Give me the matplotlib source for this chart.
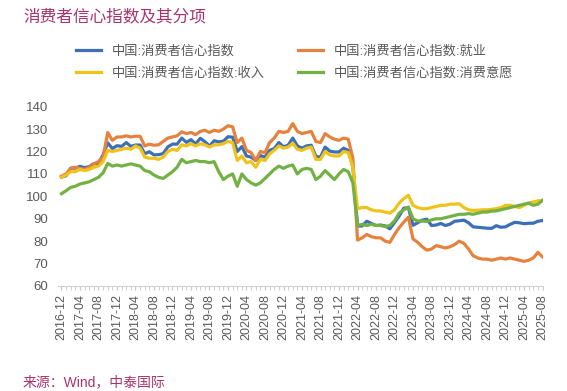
import matplotlib.pyplot as plt
from matplotlib.ticker import MultipleLocator

plt.rcParams['font.family'] = ['Liberation Sans', 'Noto Sans CJK SC', 'DejaVu Sans']

# monthly, 2016-12 .. 2025-08
months = ['2016-12'] + [f'{y}-{m:02d}' for y in range(2017, 2025) for m in range(1, 13)] \
    + [f'2025-{m:02d}' for m in range(1, 9)]

cci = ([108.6]
       + [109.2, 112.6, 112.6, 113.4, 112.8, 113.3, 114.6, 114.7, 118.6, 123.9, 121.3, 122.6]
       + [122.3, 124.0, 122.3, 122.9, 122.9, 119.0, 119.9, 118.5, 118.6, 119.1, 122.1, 123.3]
       + [123.3, 126.0, 124.1, 125.3, 123.4, 125.9, 124.4, 122.4, 124.8, 124.3, 124.6, 126.6]
       + [126.4, 120.0, 122.2, 118.0, 117.5, 116.0, 118.2, 117.5, 120.5, 121.3, 124.0, 122.1]
       + [122.8, 126.0, 122.5, 121.5, 122.5, 122.8, 117.8, 117.5, 122.0, 120.2, 119.8, 119.8]
       + [121.5, 120.5, 113.2, 86.7, 86.8, 88.9, 87.9, 87.0, 87.2, 86.8, 85.5, 88.3]
       + [91.2, 94.7, 94.9, 87.1, 88.2, 89.4, 89.8, 87.0, 87.2, 87.9, 87.0, 87.6]
       + [88.9, 89.1, 89.4, 88.2, 86.4, 86.2, 86.0, 85.8, 85.7, 86.9, 86.2, 86.4]
       + [87.5, 88.4, 88.2, 87.8, 88.0, 88.0, 88.9, 89.2])

employment = ([109.0]
              + [110.0, 112.5, 113.0, 112.5, 112.0, 113.0, 114.5, 115.5, 117.5, 128.5, 125.0, 126.5]
              + [126.5, 127.0, 126.5, 126.8, 126.8, 122.5, 123.3, 122.8, 123.0, 124.5, 126.0, 126.5]
              + [127.0, 128.8, 128.0, 128.5, 127.5, 129.0, 129.5, 128.5, 129.5, 129.0, 130.0, 131.5]
              + [131.0, 124.0, 126.0, 120.5, 119.5, 116.0, 120.0, 119.5, 124.0, 126.0, 129.0, 128.5]
              + [129.0, 132.5, 129.0, 128.0, 128.5, 129.0, 124.5, 124.0, 128.0, 126.5, 125.5, 125.0]
              + [126.0, 125.5, 117.0, 80.5, 81.5, 83.0, 82.0, 81.5, 81.5, 80.0, 79.5, 83.0]
              + [86.0, 88.5, 90.7, 81.0, 79.5, 77.5, 76.0, 76.5, 78.0, 77.5, 77.0, 77.5]
              + [78.5, 80.0, 79.0, 76.5, 73.5, 72.5, 72.0, 72.0, 71.5, 72.0, 72.5, 72.0]
              + [72.5, 72.0, 71.5, 71.0, 71.5, 72.5, 75.0, 73.0])

income = ([108.5]
          + [109.5, 111.0, 111.0, 112.0, 111.5, 112.0, 113.0, 113.5, 115.5, 120.5, 120.0, 120.5]
          + [121.0, 121.5, 121.0, 122.5, 121.5, 117.5, 117.0, 117.0, 116.5, 117.5, 120.0, 121.0]
          + [120.5, 123.0, 122.5, 123.5, 122.5, 123.5, 123.0, 122.0, 123.0, 123.0, 123.5, 124.5]
          + [124.0, 116.0, 118.0, 115.0, 115.5, 113.0, 116.5, 116.0, 119.0, 120.5, 122.5, 121.5]
          + [122.0, 123.7, 121.0, 120.5, 121.5, 122.0, 116.5, 116.5, 120.0, 118.5, 118.0, 118.0]
          + [120.0, 119.5, 113.0, 94.5, 95.0, 95.0, 94.0, 93.5, 93.5, 93.0, 92.5, 94.0]
          + [97.0, 99.0, 100.5, 96.0, 95.0, 94.5, 94.5, 95.0, 95.5, 96.0, 96.0, 96.5]
          + [96.5, 96.7, 95.0, 94.0, 93.7, 93.8, 94.0, 94.0, 94.2, 94.5, 95.0, 96.0]
          + [96.0, 95.5, 95.0, 96.0, 97.0, 97.5, 98.0, 98.2])

willingness = ([101.2]
               + [102.5, 104.0, 104.5, 105.5, 106.0, 106.5, 107.5, 108.5, 110.5, 114.7, 113.5, 114.0]
               + [113.5, 114.0, 114.5, 114.0, 113.5, 111.5, 111.0, 109.5, 108.5, 108.0, 109.5, 111.0]
               + [113.0, 116.5, 115.0, 115.5, 116.0, 115.5, 115.5, 115.0, 115.5, 111.0, 107.5, 109.0]
               + [110.0, 104.5, 110.0, 107.5, 106.0, 105.0, 106.0, 108.0, 110.0, 112.0, 113.5, 112.5]
               + [113.5, 114.0, 110.0, 112.0, 112.5, 112.0, 107.5, 109.0, 111.5, 109.5, 107.5, 110.0]
               + [112.0, 111.0, 106.0, 87.0, 87.5, 87.0, 87.5, 87.0, 87.0, 86.5, 87.0, 89.0]
               + [92.5, 94.0, 95.2, 90.0, 89.0, 89.0, 88.8, 89.5, 90.0, 90.0, 90.5, 91.0]
               + [91.5, 92.0, 92.0, 92.3, 92.0, 92.5, 93.0, 93.0, 93.4, 93.5, 94.0, 94.5]
               + [95.0, 95.5, 96.0, 96.5, 97.0, 96.0, 96.5, 98.2])

names = ['中国:消费者信心指数', '中国:消费者信心指数:就业',
         '中国:消费者信心指数:收入', '中国:消费者信心指数:消费意愿']
colors = ['#3d6fb6', '#e4823e', '#efc31c', '#74b144']

fig = plt.figure(figsize=(5.67, 3.91), dpi=100)
ax = fig.add_axes([58 / 567, 1 - 286 / 391, 485 / 567, (286 - 106.7) / 391])

x = list(range(len(months)))
lines = []
for vals, name, c in zip([cci, employment, income, willingness], names, colors):
    ln, = ax.plot(x, vals, color=c, linewidth=2.3, label=name, solid_joinstyle='round')
    lines.append(ln)

ax.set_xlim(-0.75, 104.1)
ax.set_ylim(60, 140)
ax.set_yticks(range(60, 141, 10))
ax.set_xticks(x[::4])
ax.set_xticklabels(months[::4], rotation=90, fontsize=9, color='#595959')
ax.xaxis.set_minor_locator(MultipleLocator(1))
ax.tick_params(axis='x', which='both', length=3, color='#c8c8c8', pad=3)
ax.tick_params(axis='y', length=0, pad=7, labelsize=9.5, labelcolor='#595959')
for s in ['top', 'right', 'left']:
    ax.spines[s].set_visible(False)
ax.spines['bottom'].set_color('#d0d0d0')

# legend: row1 blue/orange, row2 yellow/green
fig.legend([lines[0], lines[2], lines[1], lines[3]],
           [names[0], names[2], names[1], names[3]],
           ncol=2, loc='upper left', bbox_to_anchor=(76 / 567, 1 - 45 / 391),
           frameon=False, fontsize=9.5, handlelength=1.9, handletextpad=0.8,
           columnspacing=2.55, labelspacing=0.7, borderpad=0, borderaxespad=0,
           labelcolor='#595959')

fig.text(23 / 567, 1 - 16 / 391, '消费者信心指数及其分项', fontsize=12,
         color='#a8336f', va='center', ha='left')
fig.text(23 / 567, 1 - 382 / 391, '来源：Wind，中泰国际', fontsize=10,
         color='#a8336f', va='center', ha='left')

fig.savefig('out.png', dpi=100, facecolor='white')
